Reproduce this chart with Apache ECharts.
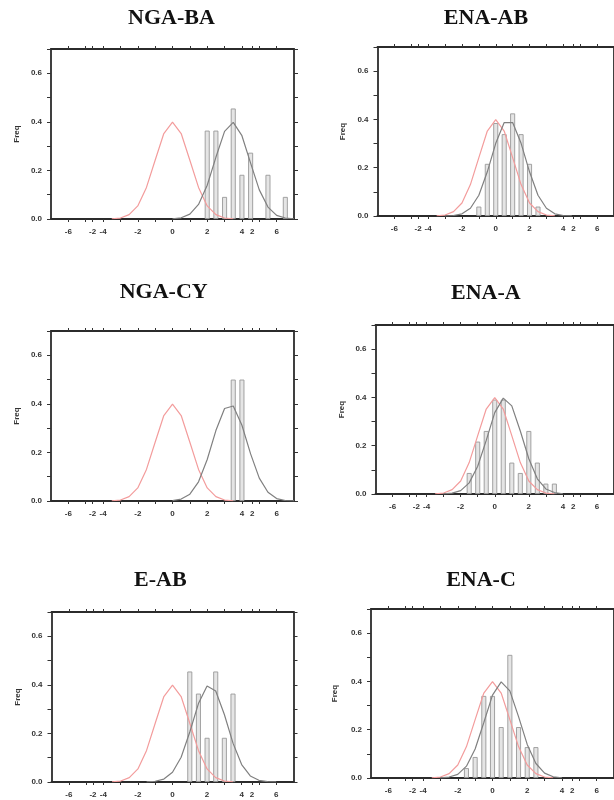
<!DOCTYPE html>
<html>
<head>
<meta charset="utf-8">
<script src="https://cdn.jsdelivr.net/npm/echarts@6/dist/echarts.min.js"></script>
<style>
  html, body { margin: 0; padding: 0; background: #fff; }
  #showData { width: 614px; height: 800px; }
</style>
</head>
<body>
<div id="showData"></div>
<script>
// panel titles, row by row
var titles = ['NGA-BA', 'ENA-AB', 'NGA-CY', 'ENA-A', 'E-AB', 'ENA-C'];

// x axis tick marks and the (odd, overlapping) tick labels
var xTickValues = [-6, -5, -4.6, -4, -3, -2, -1, 0, 1, 2, 3, 4, 4.6, 5, 6];
var xLabelValues = [-6, -4.6, -4, -2, 0, 2, 4, 4.6, 6];
var xLabelTexts = ['-6', '-2', '-4', '-2', '0', '2', '4', '2', '6'];

// red reference curve (same in every panel)
var refX = [-3.5, -3, -2.5, -2, -1.5, -1, -0.5, 0, 0.5, 1, 1.5, 2, 2.5, 3, 3.5];
var refY = [0.001, 0.004, 0.018, 0.054, 0.130, 0.242, 0.352, 0.399, 0.352, 0.242, 0.130, 0.054, 0.018, 0.004, 0.001];

// NGA-BA
var ngaBaBins = [2, 2.5, 3, 3.5, 4, 4.5, 5.5, 6.5];
var ngaBaFreq = [0.364, 0.364, 0.091, 0.455, 0.182, 0.273, 0.182, 0.091];
var ngaBaFitX = [0, 0.5, 1, 1.5, 2, 2.5, 3, 3.5, 4, 4.5, 5, 5.5, 6, 6.5, 7];
var ngaBaFitY = [0.001, 0.005, 0.020, 0.060, 0.139, 0.254, 0.361, 0.398, 0.343, 0.230, 0.120, 0.049, 0.015, 0.004, 0.001];

// ENA-AB
var enaAbBins = [-1, -0.5, 0, 0.5, 1, 1.5, 2, 2.5];
var enaAbFreq = [0.039, 0.216, 0.385, 0.339, 0.425, 0.339, 0.216, 0.039];
var enaAbFitX = [-3, -2.5, -2, -1.5, -1, -0.5, 0, 0.5, 1, 1.5, 2, 2.5, 3, 3.5, 4, 4.5];
var enaAbFitY = [0.0004, 0.002, 0.009, 0.032, 0.086, 0.183, 0.301, 0.387, 0.387, 0.301, 0.183, 0.086, 0.032, 0.009, 0.002, 0.0004];

// NGA-CY
var ngaCyBins = [3.5, 4];
var ngaCyFreq = [0.5, 0.5];
var ngaCyFitX = [0, 0.5, 1, 1.5, 2, 2.5, 3, 3.5, 4, 4.5, 5, 5.5, 6, 6.5, 7];
var ngaCyFitY = [0.002, 0.008, 0.028, 0.079, 0.171, 0.290, 0.381, 0.391, 0.312, 0.194, 0.094, 0.036, 0.010, 0.002, 0.0004];

// ENA-A
var enaABins = [-1.5, -1, -0.5, 0, 0.5, 1, 1.5, 2, 2.5, 3, 3.5];
var enaAFreq = [0.087, 0.217, 0.261, 0.391, 0.391, 0.130, 0.087, 0.261, 0.130, 0.043, 0.043];
var enaAFitX = [-3, -2.5, -2, -1.5, -1, -0.5, 0, 0.5, 1, 1.5, 2, 2.5, 3, 3.5, 4];
var enaAFitY = [0.0007, 0.0035, 0.014, 0.046, 0.115, 0.222, 0.337, 0.397, 0.365, 0.261, 0.146, 0.063, 0.021, 0.006, 0.001];

// E-AB
var eAbBins = [1, 1.5, 2, 2.5, 3, 3.5];
var eAbFreq = [0.455, 0.364, 0.182, 0.455, 0.182, 0.364];
var eAbFitX = [-1.5, -1, -0.5, 0, 0.5, 1, 1.5, 2, 2.5, 3, 3.5, 4, 4.5, 5, 5.5, 6];
var eAbFitY = [0.0005, 0.003, 0.012, 0.040, 0.102, 0.206, 0.323, 0.395, 0.375, 0.278, 0.160, 0.072, 0.025, 0.007, 0.0015, 0.0002];

// ENA-C
var enaCBins = [-1.5, -1, -0.5, 0, 0.5, 1, 1.5, 2, 2.5];
var enaCFreq = [0.041, 0.087, 0.340, 0.340, 0.211, 0.510, 0.211, 0.128, 0.128];
var enaCFitX = [-3, -2.5, -2, -1.5, -1, -0.5, 0, 0.5, 1, 1.5, 2, 2.5, 3, 3.5, 4];
var enaCFitY = [0.0007, 0.004, 0.015, 0.049, 0.120, 0.230, 0.343, 0.398, 0.361, 0.254, 0.139, 0.060, 0.020, 0.005, 0.001];

var panelBins = [ngaBaBins, enaAbBins, ngaCyBins, enaABins, eAbBins, enaCBins];
var panelFreq = [ngaBaFreq, enaAbFreq, ngaCyFreq, enaAFreq, eAbFreq, enaCFreq];
var panelFitX = [ngaBaFitX, enaAbFitX, ngaCyFitX, enaAFitX, eAbFitX, enaCFitX];
var panelFitY = [ngaBaFitY, enaAbFitY, ngaCyFitY, enaAFitY, eAbFitY, enaCFitY];

// layout: grid left/top/width/height, title centre x/y, gap of the Freq label
var layout = [
  {left: 51, top: 49, width: 243, height: 170, tx: 171.5, ty: 17.5, gap: 30},
  {left: 377.5, top: 47, width: 241, height: 169, tx: 486, ty: 17.5, gap: 30.5},
  {left: 51, top: 331, width: 243, height: 170, tx: 163.7, ty: 291.7, gap: 30},
  {left: 375.5, top: 325, width: 242.5, height: 169, tx: 485.8, ty: 292, gap: 30},
  {left: 51.5, top: 612, width: 242, height: 170, tx: 160.3, ty: 579, gap: 30},
  {left: 371, top: 609, width: 243, height: 169, tx: 481, ty: 579.7, gap: 32}
];

function pairs(xs, ys) {
  var out = [];
  for (var i = 0; i < xs.length; i++) out.push([xs[i], ys[i]]);
  return out;
}

var frameLine = {show: true, onZero: false, lineStyle: {color: '#2b2b2b', width: 1.8}};
var labelFont = {fontFamily: 'Liberation Sans', fontSize: 8, fontWeight: 'bold', color: '#333'};

var option = {
  animation: false,
  backgroundColor: '#fff',
  title: [], grid: [], xAxis: [], yAxis: [], series: []
};

for (var p = 0; p < 6; p++) {
  var L = layout[p];
  option.title.push({
    text: titles[p],
    left: L.tx, top: L.ty - 10,
    textAlign: 'center',
    padding: 0,
    textStyle: {fontFamily: 'Liberation Serif', fontSize: 22, fontWeight: 'bold', color: '#111', lineHeight: 22}
  });
  option.grid.push({left: L.left, top: L.top, width: L.width, height: L.height});

  option.xAxis.push({
    gridIndex: p, type: 'value', min: -7, max: 7, position: 'bottom',
    axisLine: frameLine,
    axisTick: {show: true, inside: false, length: 3, customValues: xTickValues, lineStyle: {color: '#333'}},
    axisLabel: Object.assign({
      margin: 9,
      customValues: xLabelValues,
      formatter: function (v) {
        for (var k = 0; k < xLabelValues.length; k++) {
          if (Math.abs(xLabelValues[k] - v) < 1e-6) return xLabelTexts[k];
        }
        return '';
      }
    }, labelFont),
    splitLine: {show: false}
  });
  option.xAxis.push({
    gridIndex: p, type: 'value', min: -7, max: 7, position: 'top',
    axisLine: frameLine,
    axisTick: {show: true, inside: false, length: 3, customValues: xTickValues, lineStyle: {color: '#333'}},
    axisLabel: {show: false},
    splitLine: {show: false}
  });

  option.yAxis.push({
    gridIndex: p, type: 'value', min: 0, max: 0.7, interval: 0.1, position: 'left',
    name: 'Freq', nameLocation: 'middle', nameGap: L.gap,
    nameTextStyle: {fontFamily: 'Liberation Sans', fontSize: 8, fontWeight: 'bold', color: '#333'},
    axisLine: frameLine,
    axisTick: {show: true, inside: false, length: 4, lineStyle: {color: '#333'}},
    axisLabel: Object.assign({
      margin: 9,
      formatter: function (v) {
        var t = Math.round(v * 10);
        return (t % 2 === 0 && t < 7) ? v.toFixed(1) : '';
      }
    }, labelFont),
    splitLine: {show: false}
  });
  option.yAxis.push({
    gridIndex: p, type: 'value', min: 0, max: 0.7, interval: 0.1, position: 'right',
    axisLine: frameLine,
    axisTick: {show: true, inside: false, length: 4, lineStyle: {color: '#333'}},
    axisLabel: {show: false},
    splitLine: {show: false}
  });

  option.series.push({
    type: 'bar', xAxisIndex: p * 2, yAxisIndex: p * 2,
    barWidth: 5,
    itemStyle: {color: 'rgba(225,225,225,0.85)', borderColor: '#999', borderWidth: 0.9},
    data: pairs(panelBins[p], panelFreq[p])
  });
  option.series.push({
    type: 'line', xAxisIndex: p * 2, yAxisIndex: p * 2,
    showSymbol: false, symbol: 'none',
    lineStyle: {color: '#f39c9c', width: 1.2},
    data: pairs(refX, refY)
  });
  option.series.push({
    type: 'line', xAxisIndex: p * 2, yAxisIndex: p * 2,
    showSymbol: false, symbol: 'none',
    lineStyle: {color: '#808080', width: 1.2},
    data: pairs(panelFitX[p], panelFitY[p])
  });
}

var myChart = echarts.init(document.getElementById('showData'));
myChart.setOption(option);
</script>
</body>
</html>
